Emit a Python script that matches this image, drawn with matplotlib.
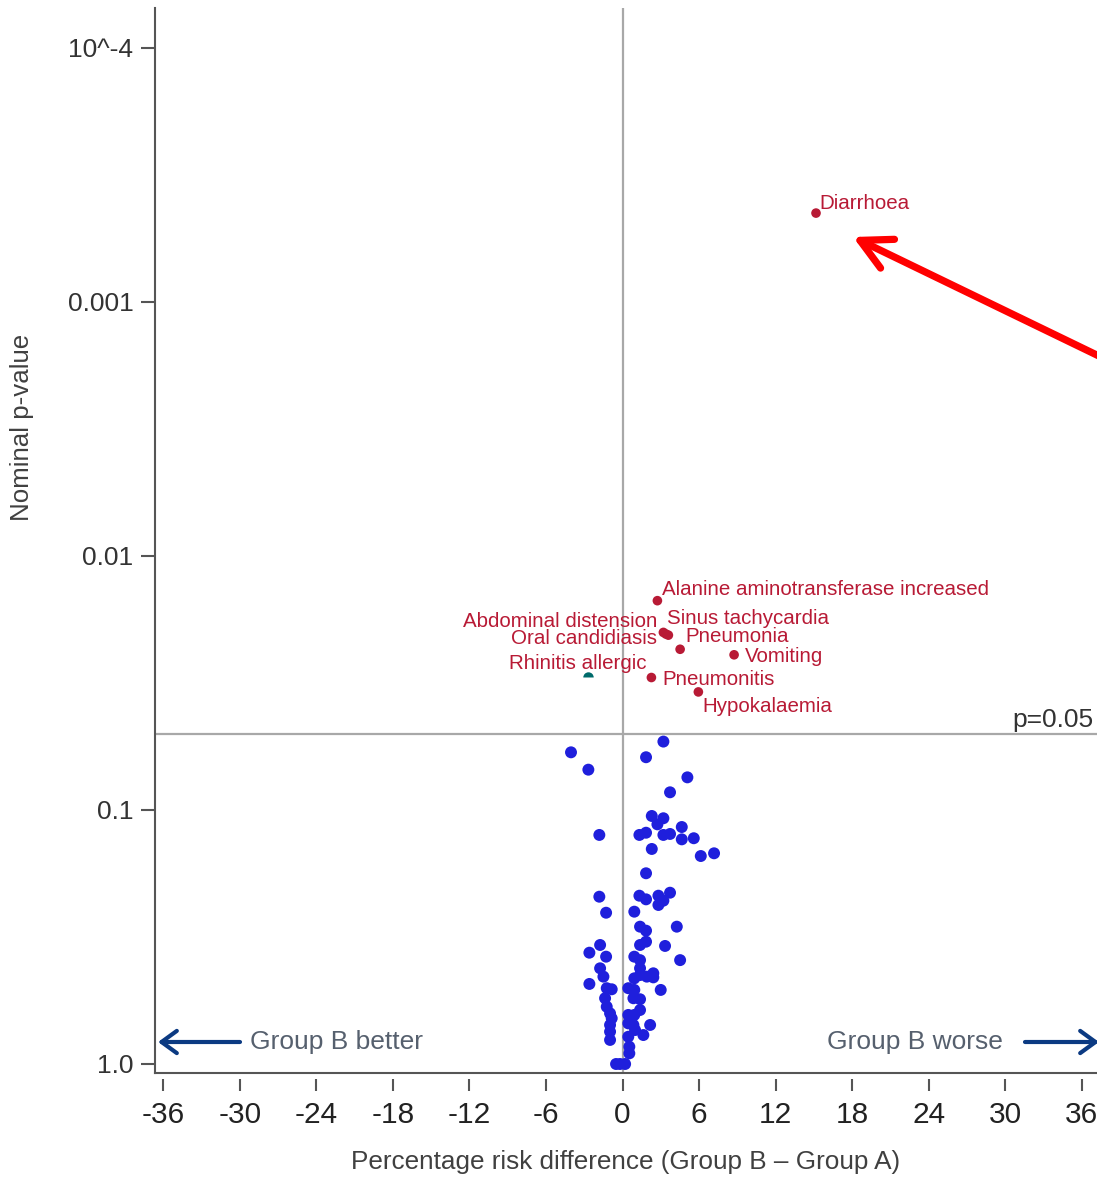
import matplotlib
matplotlib.use("Agg")
import matplotlib.pyplot as plt

plt.rcParams['font.family'] = ['Liberation Sans', 'DejaVu Sans']

# Adverse events reaching nominal significance (risk difference %, p-value)
sig_terms = ["Diarrhoea", "Alanine aminotransferase increased", "Abdominal distension",
             "Oral candidiasis", "Sinus tachycardia", "Pneumonia", "Vomiting",
             "Pneumonitis", "Hypokalaemia"]
sig_diff = [15.16, 2.73, 3.20, 3.40, 3.59, 4.51, 8.74, 2.26, 5.94]
sig_p = [4.47e-4, 0.0150, 0.0200, 0.0203, 0.0205, 0.0233, 0.0245, 0.0301, 0.0343]

# Significant event in the other direction
other_term = "Rhinitis allergic"
other_diff = -2.73
other_p = 0.030

# Remaining adverse events (not significant)
ns_diff = [3.20, -4.04, 1.84, -2.68, 5.08, 3.72, 2.29, 3.20, 2.73, 4.64,
           -1.82, 1.32, 1.84, 3.20, 3.72, 4.64, 5.58, 2.29, 6.13, 7.17,
           1.84, -1.82, 1.32, 1.84, 2.81, 3.72, 3.20, 2.81, -1.29, 0.92,
           1.37, 1.84, 4.25, 1.37, 1.84, 3.33, -1.76, -2.60, -1.29, 0.92,
           1.37, 4.51, -1.76, -1.50, 1.37, 1.37, 1.90, 2.41, 2.41, 0.92,
           -2.60, -1.24, -0.85, 0.45, 0.92, 2.99, -1.37, -1.24, 0.85, 1.37,
           1.37, 0.92, -0.98, -0.85, 0.45, 0.45, 0.85, 0.98, 2.16, -0.98,
           -0.98, -0.98, 1.63, 0.45, 0.53, 0.53, -0.51, 0.20, -0.20]
ns_p = [0.0538, 0.0593, 0.0620, 0.0694, 0.0744, 0.0852, 0.1056, 0.1078, 0.1139, 0.1167,
        0.1254, 0.1254, 0.1229, 0.1254, 0.1243, 0.1305, 0.1292, 0.1424, 0.1518, 0.1481,
        0.1775, 0.2195, 0.2175, 0.2248, 0.2175, 0.2117, 0.2275, 0.2366, 0.2538, 0.2514,
        0.2880, 0.2986, 0.2880, 0.340, 0.330, 0.343, 0.340, 0.3646, 0.378, 0.378,
        0.390, 0.390, 0.420, 0.453, 0.420, 0.4465, 0.453, 0.4395, 0.456, 0.460,
        0.484, 0.503, 0.508, 0.503, 0.511, 0.511, 0.551, 0.595, 0.551, 0.556,
        0.613, 0.641, 0.632, 0.661, 0.641, 0.692, 0.702, 0.735, 0.702, 0.702,
        0.746, 0.804, 0.769, 0.781, 0.855, 0.908, 1.0, 1.0, 1.0]

x_ticks = [-36, -30, -24, -18, -12, -6, 0, 6, 12, 18, 24, 30, 36]
x_tick_labels = ["-36", "-30", "-24", "-18", "-12", "-6", "0", "6", "12", "18", "24", "30", "36"]
y_ticks = [1e-4, 1e-3, 1e-2, 0.1, 1.0]
y_tick_labels = ["10^-4", "0.001", "0.01", "0.1", "1.0"]
p_threshold = 0.05

# label placement: (dx, dy) in points from the marker, horizontal alignment
label_style = {
    "Diarrhoea": (2.2, 2.9, "left"),
    "Alanine aminotransferase increased": (3.6, 4.3, "left"),
    "Abdominal distension": (-4.5, 4.1, "right"),
    "Oral candidiasis": (-6.4, -7.2, "right"),
    "Sinus tachycardia": (-1.0, 7.9, "left"),
    "Pneumonia": (3.6, 5.3, "left"),
    "Vomiting": (7.9, -5.0, "left"),
    "Pneumonitis": (7.7, -5.3, "left"),
    "Hypokalaemia": (2.7, -14.4, "left"),
    "Rhinitis allergic": (42.0, 5.9, "right"),
}

W, H = 1097, 1177
fig = plt.figure(figsize=(W / 100, H / 100), dpi=100)
ax = fig.add_axes([155 / W, (H - 1073) / H, (1133 - 155) / W, (1073 - 8) / H])

RED = "#b81a35"
BLUE = "#1f1fdc"
TEAL = "#006b6b"
GREY_LINE = "#a8a8a8"
AXIS = "#555555"

ax.set_yscale("log")
ax.set_xlim(-36.64, 40.0)
ax.set_ylim(1.085, 6.966e-5)

# reference lines
ax.axvline(0, color=GREY_LINE, lw=1.6, zorder=1)
ax.axhline(p_threshold, color=GREY_LINE, lw=1.6, zorder=1)

ax.scatter(ns_diff, ns_p, s=74, color=BLUE, edgecolors="none", zorder=3)
ax.scatter(sig_diff, sig_p, s=48, color=RED, edgecolors="none", zorder=3)
ax.plot([other_diff], [other_p], "o", ms=7.5, color=TEAL, fillstyle="top",
        markerfacecoloralt="none", mew=0, zorder=3)

for term, xd, pv in list(zip(sig_terms, sig_diff, sig_p)) + [(other_term, other_diff, other_p)]:
    dx, dy, ha = label_style[term]
    ax.annotate(term, (xd, pv), xytext=(dx, dy), textcoords="offset points",
                ha=ha, va="baseline", fontsize=14.8, color=RED, zorder=4)

ax.annotate("p=0.05", xy=(1093 / W, p_threshold), xycoords=("figure fraction", "data"),
            xytext=(0, 5), textcoords="offset points", ha="right", va="baseline",
            fontsize=19, color="#333333", annotation_clip=False)

# axes styling
for side in ("top", "right"):
    ax.spines[side].set_visible(False)
ax.spines["left"].set_color(AXIS)
ax.spines["left"].set_linewidth(1.5)
ax.spines["bottom"].set_position(("outward", 4))
ax.spines["bottom"].set_color("none")
ax.plot([0, 1], [0, 0], transform=ax.transAxes, color=AXIS, lw=1.5, clip_on=False, zorder=2)

ax.set_yticks(y_ticks, labels=y_tick_labels)
ax.yaxis.set_minor_locator(matplotlib.ticker.NullLocator())
ax.set_xticks(x_ticks, labels=x_tick_labels)
ax.tick_params(axis="y", length=10, width=1.5, color=AXIS, labelsize=19,
               labelcolor="#333333", pad=5.5)
ax.tick_params(axis="x", length=8.5, width=1.5, color=AXIS, labelsize=21.5,
               labelcolor="#222222", pad=7.5)

fig.text(626 / W, 1 - 1162 / H, "Percentage risk difference (Group B \u2013 Group A)",
         ha="center", va="center", fontsize=18.8, color="#404040")
fig.text(22 / W, 1 - 427 / H, "Nominal p-value", rotation=90,
         ha="center", va="center", fontsize=18.6, color="#404040")

# direction hints along the bottom
NAVY = "#0b3a82"
arrow_kw = dict(arrowstyle="->,head_length=1.1,head_width=0.8", color=NAVY, lw=3,
                mutation_scale=10, shrinkA=0, shrinkB=0)
ax.annotate("", xy=(158 / W, 1 - 1042 / H), xycoords="figure fraction",
            xytext=(240 / W, 1 - 1042 / H), arrowprops=arrow_kw, annotation_clip=False)
ax.annotate("", xy=(1099 / W, 1 - 1042 / H), xycoords="figure fraction",
            xytext=(1025 / W, 1 - 1042 / H), arrowprops=arrow_kw, annotation_clip=False)
fig.text(250 / W, 1 - 1042 / H, "Group B better", ha="left", va="center",
         fontsize=19, color="#56606e")
fig.text(1003 / W, 1 - 1042 / H, "Group B worse", ha="right", va="center",
         fontsize=19, color="#56606e")

# highlight arrow pointing at the strongest signal
ax.annotate("", xy=(853 / W, 1 - 237 / H), xycoords="figure fraction",
            xytext=(1125 / W, 1 - (237 + 0.484 * 272) / H),
            arrowprops=dict(arrowstyle="->,head_length=2.2,head_width=1.15", color="#ff0000",
                            lw=5.2, mutation_scale=10, shrinkA=0, shrinkB=0,
                            capstyle="round", joinstyle="round"),
            annotation_clip=False)

fig.savefig("out.png", dpi=100)
